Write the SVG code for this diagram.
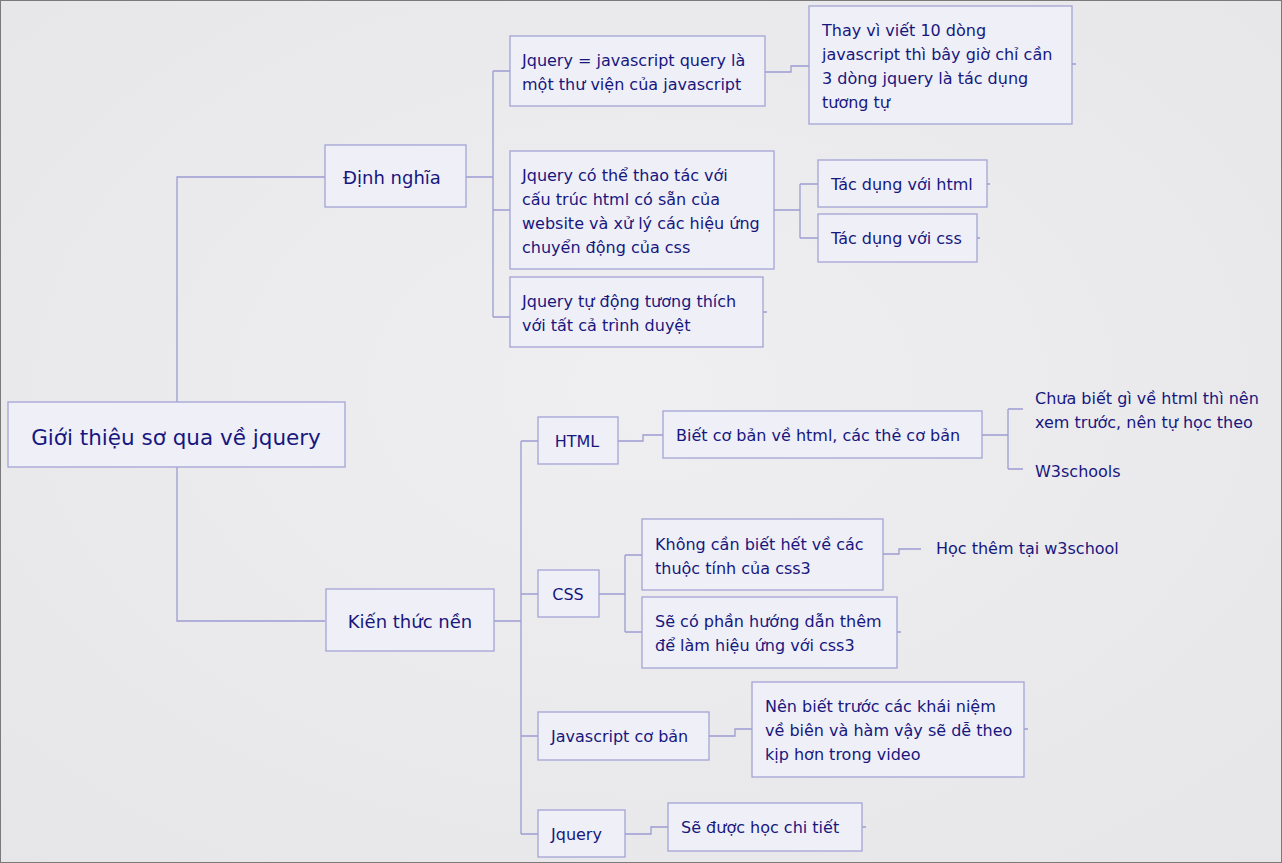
<svg xmlns="http://www.w3.org/2000/svg" width="1282" height="863" viewBox="0 0 1282 863">
<defs>
<radialGradient id="bg" cx="50%" cy="45%" r="75%">
<stop offset="0" stop-color="#efeff1"/>
<stop offset="1" stop-color="#e6e6e9"/>
</radialGradient>
<style>
.n rect{fill:#efeff7;stroke:#a3a3d6;stroke-width:1.3}
.t{font-family:"DejaVu Sans","Liberation Sans",sans-serif;font-size:16px;fill:#17177e;dominant-baseline:central}
.big{font-size:21.5px}
.mid{font-size:18px}
.c{text-anchor:middle}
#connectors path{fill:none;stroke:#9c9cd2;stroke-width:1.3}
</style>
</defs>
<rect x="0.5" y="0.5" width="1281" height="862" fill="url(#bg)" stroke="#7a7a7a" stroke-width="1"/>
<g id="connectors">
<path d="M177,402 V177 H325 M177,467 V621 H325"/>
<path d="M466,177 H493 M493,71 V317 M493,71 H510 M493,210 H510 M493,317 H510"/>
<path d="M765,72 H791 V66 H809"/>
<path d="M774,210 H800 M800,184 V238 M800,184 H818 M800,238 H818"/>
<path d="M494,621 H521 M521,441 V834 M521,441 H538 M521,594 H538 M521,736 H538 M521,834 H538"/>
<path d="M618,441 H643 V435 H663"/>
<path d="M982,435 H1008 M1008,409 V469 M1008,409 H1023 M1008,469 H1023"/>
<path d="M599,594 H625 M625,555 V632 M625,555 H642 M625,632 H642"/>
<path d="M883,554 H899 V549 H921"/>
<path d="M709,736 H735 V729 H752"/>
<path d="M625,834 H651 V827 H668"/>
<path d="M1072,64 H1076 M987,184 H990 M977,238 H980 M763,312 H767 M897,632 H901 M1024,729 H1028 M862,827 H866"/>
</g>
<g id="root" class="n"><rect x="8" y="402" width="337" height="65"/><text class="t big c" x="176" y="437">Giới thiệu sơ qua về jquery</text></g>
<g id="dinh-nghia" class="n"><rect x="325" y="145" width="141" height="62"/><text class="t mid c" x="392" y="177">Định nghĩa</text></g>
<g id="a1" class="n"><rect x="510" y="36" width="255" height="70"/><text class="t" x="522" y="60">Jquery = javascript query là</text><text class="t" x="522" y="84">một thư viện của javascript</text></g>
<g id="a1a" class="n"><rect x="809" y="6" width="263" height="118"/><text class="t" x="822" y="30">Thay vì viết 10 dòng</text><text class="t" x="822" y="54">javascript thì bây giờ chỉ cần</text><text class="t" x="822" y="78">3 dòng jquery là tác dụng</text><text class="t" x="822" y="102">tương tự</text></g>
<g id="a2" class="n"><rect x="510" y="151" width="264" height="118"/><text class="t" x="522" y="175">Jquery có thể thao tác với</text><text class="t" x="522" y="199">cấu trúc html có sẵn của</text><text class="t" x="522" y="223">website và xử lý các hiệu ứng</text><text class="t" x="522" y="247">chuyển động của css</text></g>
<g id="a2a" class="n"><rect x="818" y="160" width="169" height="47"/><text class="t" x="831" y="184">Tác dụng với html</text></g>
<g id="a2b" class="n"><rect x="818" y="214" width="159" height="48"/><text class="t" x="831" y="238">Tác dụng với css</text></g>
<g id="a3" class="n"><rect x="510" y="277" width="253" height="70"/><text class="t" x="522" y="301">Jquery tự động tương thích</text><text class="t" x="522" y="325">với tất cả trình duyệt</text></g>
<g id="kien-thuc-nen" class="n"><rect x="326" y="589" width="168" height="62"/><text class="t mid c" x="410" y="621">Kiến thức nền</text></g>
<g id="html" class="n"><rect x="538" y="417" width="80" height="47"/><text class="t c" x="577" y="441">HTML</text></g>
<g id="html-a" class="n"><rect x="663" y="411" width="319" height="47"/><text class="t" x="676" y="435">Biết cơ bản về html, các thẻ cơ bản</text></g>
<g id="html-a1"><text class="t" x="1035" y="398">Chưa biết gì về html thì nên</text><text class="t" x="1035" y="422">xem trước, nên tự học theo</text></g>
<g id="html-a2"><text class="t" x="1035" y="471">W3schools</text></g>
<g id="css" class="n"><rect x="538" y="570" width="61" height="47"/><text class="t c" x="568" y="594">CSS</text></g>
<g id="css-a" class="n"><rect x="642" y="519" width="241" height="71"/><text class="t" x="655" y="544">Không cần biết hết về các</text><text class="t" x="655" y="568">thuộc tính của css3</text></g>
<g id="css-a1"><text class="t" x="936" y="548">Học thêm tại w3school</text></g>
<g id="css-b" class="n"><rect x="642" y="597" width="255" height="71"/><text class="t" x="655" y="621">Sẽ có phần hướng dẫn thêm</text><text class="t" x="655" y="645">để làm hiệu ứng với css3</text></g>
<g id="js" class="n"><rect x="538" y="712" width="171" height="48"/><text class="t" x="551" y="736">Javascript cơ bản</text></g>
<g id="js-a" class="n"><rect x="752" y="682" width="272" height="95"/><text class="t" x="765" y="706">Nên biết trước các khái niệm</text><text class="t" x="765" y="730">về biên và hàm vậy sẽ dễ theo</text><text class="t" x="765" y="754">kịp hơn trong video</text></g>
<g id="jquery" class="n"><rect x="538" y="810" width="87" height="47"/><text class="t" x="551" y="834">Jquery</text></g>
<g id="jquery-a" class="n"><rect x="668" y="803" width="194" height="48"/><text class="t" x="681" y="827">Sẽ được học chi tiết</text></g>
</svg>
